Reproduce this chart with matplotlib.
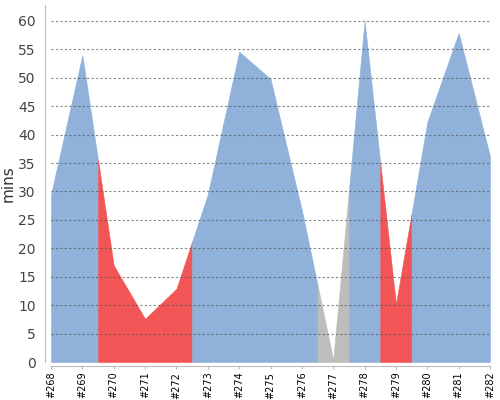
import numpy as np
import matplotlib
matplotlib.use('Agg')
import matplotlib.pyplot as plt

builds = ['#268', '#269', '#270', '#271', '#272', '#273', '#274', '#275',
          '#276', '#277', '#278', '#279', '#280', '#281', '#282']
mins = [29.5, 54, 17, 7.6, 12.9, 29.5, 54.6, 49.8, 26.7, 0.4, 60, 10.2, 42.2, 57.9, 36.2]
status = ['ok', 'ok', 'fail', 'fail', 'fail', 'ok', 'ok', 'ok',
          'ok', 'abort', 'ok', 'fail', 'ok', 'ok', 'ok']
colors = {'ok': '#8fb1da', 'fail': '#f25555', 'abort': '#bdbdbd'}

fig = plt.figure(figsize=(5, 4), dpi=100)
ax = fig.add_axes([51/500, 38/400, 439/500, 357/400])

x = np.arange(len(builds))
y = np.array(mins, dtype=float)
n = len(x)
for i in range(n):
	# each build owns half a segment on each side
	xs = [float(x[i])]
	ys = [y[i]]
	if i > 0:
		xs.insert(0, x[i] - 0.5)
		ys.insert(0, (y[i] + y[i-1]) / 2)
	if i < n - 1:
		xs.append(x[i] + 0.5)
		ys.append((y[i] + y[i+1]) / 2)
	c = colors[status[i]]
	ax.fill_between(xs, 0, ys, facecolor=c, edgecolor=c, linewidth=0.4, zorder=1)

for s in ['top', 'right']:
	ax.spines[s].set_visible(False)
ax.spines['left'].set_position(('outward', 4))
ax.spines['bottom'].set_position(('outward', 3))
ax.spines['left'].set_color('#bbbbbb')
ax.spines['bottom'].set_color('#bbbbbb')

ax.set_xlim(0, n - 1)
ax.set_ylim(0, 62.8)
ax.set_yticks(range(0, 61, 5))
ax.set_xticks(x)
ax.set_xticklabels(builds, rotation=90, fontsize=7, color='black')
ax.tick_params(axis='y', length=0, labelsize=10, labelcolor='#444444', pad=7)
ax.tick_params(axis='x', length=2.5, color='#bbbbbb', pad=1.5)

for v in range(5, 61, 5):
	ax.axhline(v, color='#555555', alpha=0.7, linewidth=0.8, linestyle=(0, (2, 2)), zorder=2)

ax.set_ylabel('mins', fontsize=11, color='#333333', labelpad=2)

fig.savefig('out.png', dpi=100)
